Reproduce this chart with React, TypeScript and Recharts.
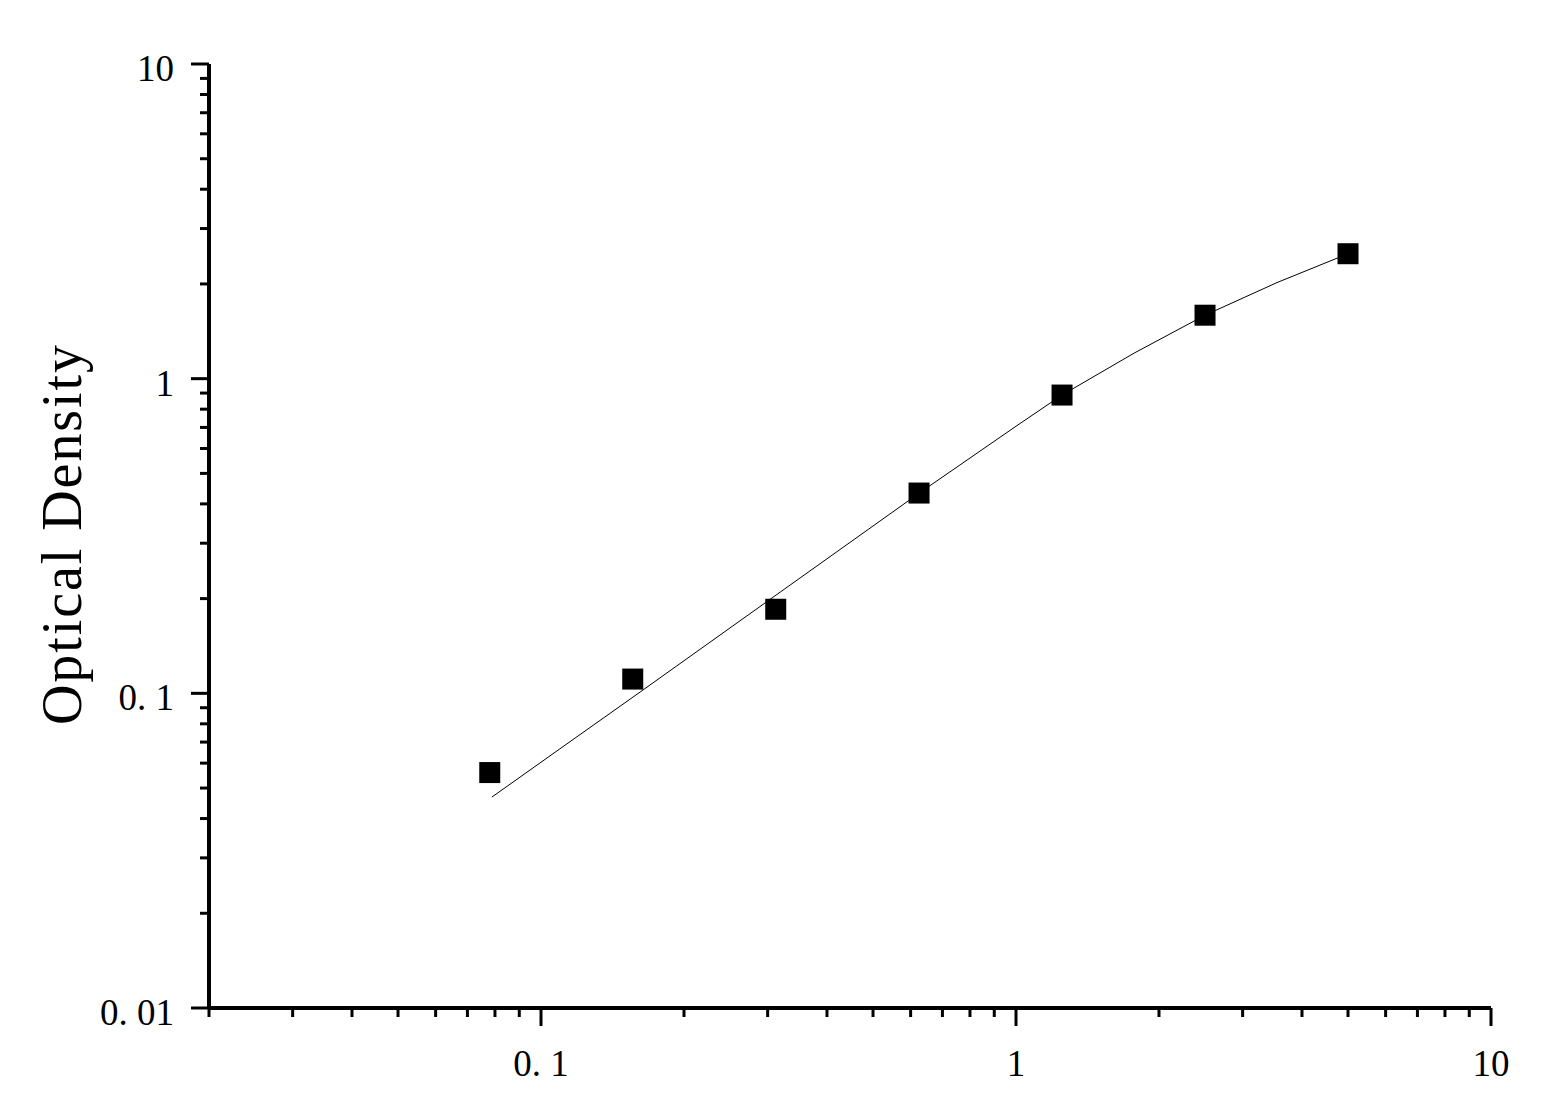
import { ScatterChart, Scatter, XAxis, YAxis } from "recharts";

// Standard points (concentration vs OD)
const CONC = [0.078, 0.156, 0.312, 0.625, 1.25, 2.5, 5];
const OD = [0.056, 0.111, 0.185, 0.433, 0.887, 1.591, 2.495];

// Fitted curve
const FIT_X = [0.0788, 0.1, 0.1616, 0.346, 0.625, 1, 1.25, 1.772, 2.5, 3.544, 5];
const FIT_Y = [0.0468, 0.0604, 0.1009, 0.229, 0.4325, 0.706, 0.887, 1.205, 1.591, 2.02, 2.495];

const X_TICKS = [
  0.02, 0.03, 0.04, 0.05, 0.06, 0.07, 0.08, 0.09,
  0.1, 0.2, 0.3, 0.4, 0.5, 0.6, 0.7, 0.8, 0.9,
  1, 2, 3, 4, 5, 6, 7, 8, 9, 10,
];
const Y_TICKS = [
  0.01, 0.02, 0.03, 0.04, 0.05, 0.06, 0.07, 0.08, 0.09,
  0.1, 0.2, 0.3, 0.4, 0.5, 0.6, 0.7, 0.8, 0.9,
  1, 2, 3, 4, 5, 6, 7, 8, 9, 10,
];
const TICK_LABELS: Record<string, string> = {
  "0.01": "0. 01",
  "0.1": "0. 1",
  "1": "1",
  "10": "10",
};

const FONT = "'Liberation Serif', 'DejaVu Serif', serif";

const points = CONC.map((x, i) => ({ x, y: OD[i] }));
const fit = FIT_X.map((x, i) => ({ x, y: FIT_Y[i] }));

function XTick({ x, y, payload }: any) {
  const label = TICK_LABELS[String(payload.value)];
  const len = label ? 18 : 9;
  return (
    <g>
      <line x1={x} x2={x} y1={y} y2={y + len} stroke="#000" strokeWidth={3} />
      {label && (
        <text x={x} y={y + 68} textAnchor="middle" fontFamily={FONT} fontSize={37} fill="#000">
          {label}
        </text>
      )}
    </g>
  );
}

function YTick({ x, y, payload }: any) {
  const label = TICK_LABELS[String(payload.value)];
  const len = label ? 18 : 9;
  return (
    <g>
      <line x1={x} x2={x - len} y1={y} y2={y} stroke="#000" strokeWidth={3} />
      {label && (
        <text x={x - 35} y={y + 17} textAnchor="end" fontFamily={FONT} fontSize={37} fill="#000">
          {label}
        </text>
      )}
    </g>
  );
}

function YTitle() {
  return (
    <text
      x={73}
      y={527}
      transform="rotate(-90, 73, 527)"
      textAnchor="middle"
      fontFamily={FONT}
      fontSize={56}
      fill="#000"
      textLength={380}
      lengthAdjust="spacing"
    >
      Optical Density
    </text>
  );
}

function Square({ cx, cy }: any) {
  return <rect x={cx - 10.5} y={cy - 10.5} width={21} height={21} fill="#000" />;
}

function NoDot() {
  return <g />;
}

export default function App() {
  return (
    <ScatterChart
      width={1550}
      height={1082}
      margin={{ top: 56, right: 67, bottom: 22, left: 101 }}
      style={{ background: "#fff" }}
    >
      <XAxis
        type="number"
        dataKey="x"
        scale="log"
        domain={[0.02, 10]}
        allowDataOverflow
        ticks={X_TICKS}
        interval={0}
        height={60}
        tickSize={0}
        tickMargin={0}
        tickLine={false}
        axisLine={{ stroke: "#000", strokeWidth: 4 }}
        tick={<XTick />}
      />
      <YAxis
        type="number"
        dataKey="y"
        scale="log"
        domain={[0.01, 10]}
        allowDataOverflow
        ticks={Y_TICKS}
        interval={0}
        width={100}
        tickSize={0}
        tickMargin={0}
        tickLine={false}
        axisLine={{ stroke: "#000", strokeWidth: 4 }}
        tick={<YTick />}
        label={<YTitle />}
      />
      <Scatter
        data={fit}
        line={{ stroke: "#000", strokeWidth: 1 }}
        lineType="joint"
        shape={<NoDot />}
        isAnimationActive={false}
      />
      <Scatter data={points} shape={<Square />} isAnimationActive={false} />
    </ScatterChart>
  );
}
